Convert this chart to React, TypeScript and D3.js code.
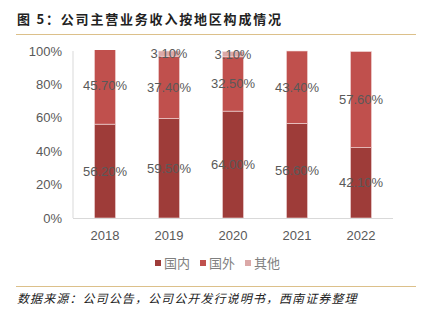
import React from "react";
import * as d3 from "d3";

const years = ["2018", "2019", "2020", "2021", "2022"];
const domestic = [56.2, 59.5, 64.0, 56.6, 42.1];
const foreign = [45.7, 37.4, 32.5, 43.4, 57.6];
const other = [0, 3.1, 3.1, 0, 0];
const yTicks = [0, 20, 40, 60, 80, 100];
const seriesNames = ["国内", "国外", "其他"];
const colors = ["#9e3c39", "#c0504d", "#dba8a7"];

export default function App() {
  const W = 423, H = 322;
  const left = 73, right = 393, top = 51, bottom = 218;
  const x = d3.scaleBand().domain(years).range([left, right]).paddingInner(0.67).paddingOuter(0.335);
  const y = d3.scaleLinear().domain([0, 100]).range([bottom, top]);
  const series = [domestic, foreign, other];
  const fmt = (v: number) => v.toFixed(2) + "%";
  const font = "'Liberation Sans', Arial, sans-serif";
  const cjk = "'Noto Sans CJK SC', sans-serif";

  const segs: any[] = [];
  years.forEach((yr, i) => {
    let acc = 0;
    series.forEach((s, k) => {
      const v = s[i];
      if (v > 0) {
        segs.push({ yr, k, y0: acc, y1: acc + v, v });
      }
      acc += v;
    });
  });

  return (
    <svg width={W} height={H} style={{ position: "absolute", left: 0, top: 0, background: "#fff" }}>
      <defs>
        <clipPath id="plotclip">
          <rect x={left} y={top - 1} width={right - left} height={bottom - top + 1} />
        </clipPath>
      </defs>
      <text x={17} y={24} fontFamily={cjk} fontWeight="bold" fontSize={13} letterSpacing={1.8} fill="#222">图 5：公司主营业务收入按地区构成情况</text>
      <line x1={16} x2={416} y1={34.5} y2={34.5} stroke="#dcc08a" strokeWidth={1.2} />
      {yTicks.map(t => (
        <text key={t} x={62} y={y(t) + 4.5} textAnchor="end" fontFamily={font} fontSize={13} fill="#595959">{t}%</text>
      ))}
      <line x1={left} x2={left} y1={top} y2={bottom} stroke="#d9d9d9" />
      <line x1={left} x2={right} y1={bottom + 0.5} y2={bottom + 0.5} stroke="#d9d9d9" />
      <g clipPath="url(#plotclip)">
        {segs.map((s, i) => (
          <rect key={i} x={x(s.yr)!} y={y(s.y1)} width={x.bandwidth()} height={y(s.y0) - y(s.y1)}
            fill={colors[s.k]} stroke="#f3dede" strokeWidth={0.6} />
        ))}
      </g>
      {segs.map((s, i) => (
        <text key={"l" + i} x={x(s.yr)! + x.bandwidth() / 2} y={y((s.y0 + s.y1) / 2) + 4.5}
          textAnchor="middle" fontFamily={font} fontSize={13} fill="#595959">{fmt(s.v)}</text>
      ))}
      {years.map(yr => (
        <text key={yr} x={x(yr)! + x.bandwidth() / 2} y={240} textAnchor="middle" fontFamily={font} fontSize={13} fill="#595959">{yr}</text>
      ))}
      {seriesNames.map((n, k) => (
        <g key={n} transform={`translate(${155 + k * 45},0)`}>
          <rect x={0} y={260} width={6} height={6} fill={colors[k]} />
          <text x={9} y={268} fontFamily={cjk} fontSize={13} fill="#7f7f7f">{n}</text>
        </g>
      ))}
      <line x1={16} x2={416} y1={286.5} y2={286.5} stroke="#dcc08a" strokeWidth={1.2} />
      <text x={17} y={303} fontFamily={cjk} fontStyle="italic" fontSize={12} letterSpacing={1.1} fill="#222">数据来源：公司公告，公司公开发行说明书，西南证券整理</text>
    </svg>
  );
}
